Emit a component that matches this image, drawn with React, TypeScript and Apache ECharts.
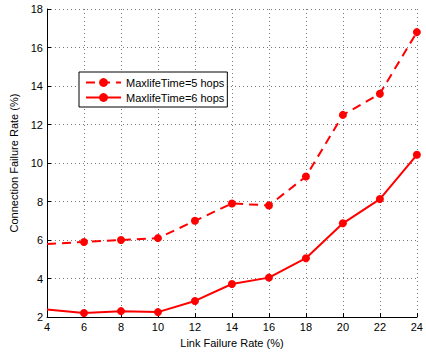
import React, { useEffect, useRef } from "react";
import * as echarts from "echarts";

const linkFailureRate = [4, 6, 8, 10, 12, 14, 16, 18, 20, 22, 24];
const hops5 = [5.8, 5.9, 6.0, 6.1, 7.0, 7.9, 7.8, 9.3, 12.5, 13.6, 16.8];
const hops6 = [2.4, 2.21, 2.31, 2.26, 2.84, 3.72, 4.05, 5.06, 6.87, 8.13, 10.43];
const seriesNames = ["MaxlifeTime=5 hops", "MaxlifeTime=6 hops"];

const FONT = "Liberation Sans, Arial, Helvetica, sans-serif";

function toPoints(ys: number[]) {
  // the first point sits on the y axis; its marker is hidden
  return linkFailureRate.map((x, i) => ({
    value: [x, ys[i]],
    symbolSize: i === 0 ? 0 : 8,
  }));
}

export default function App() {
  const ref = useRef<HTMLDivElement>(null);

  useEffect(() => {
    if (!ref.current) return;
    const chart = echarts.init(ref.current, null, { renderer: "svg" });
    const gridLine = {
      show: true,
      lineStyle: { color: "#777", type: [1, 3] as any, width: 1 },
    };
    const axisCommon = {
      axisLine: { show: true, lineStyle: { color: "#000", width: 1 } },
      axisTick: { show: true, inside: true, length: 4, lineStyle: { color: "#000" } },
      axisLabel: { color: "#000", fontSize: 11, fontFamily: FONT, margin: 4 },
      splitLine: gridLine,
      nameTextStyle: { color: "#000", fontSize: 11, fontFamily: FONT },
      nameLocation: "middle" as const,
    };
    chart.setOption({
      animation: false,
      backgroundColor: "#fff",
      grid: { left: 47, top: 9, right: 8, bottom: 34 },
      xAxis: {
        ...axisCommon,
        type: "value",
        min: 4,
        max: 24,
        interval: 2,
        name: "Link Failure Rate (%)",
        nameGap: 17,
      },
      yAxis: {
        ...axisCommon,
        type: "value",
        min: 2,
        max: 18,
        interval: 2,
        name: "Connection Failure Rate (%)",
        nameGap: 21,
      },
      legend: {
        orient: "vertical",
        left: 79,
        top: 72,
        padding: [5, 3, 4, 6],
        itemGap: 4,
        itemWidth: 35,
        itemHeight: 11,
        borderColor: "#000",
        borderWidth: 1,
        backgroundColor: "#fff",
        textStyle: { color: "#000", fontSize: 11, fontFamily: FONT },
        data: seriesNames,
      },
      series: [
        {
          name: seriesNames[0],
          type: "line",
          data: toPoints(hops5),
          symbol: "circle",
          color: "#ff0000",
          lineStyle: { color: "#ff0000", width: 2, type: [9, 6] as any },
          itemStyle: { color: "#ff0000" },
        },
        {
          name: seriesNames[1],
          type: "line",
          data: toPoints(hops6),
          symbol: "circle",
          color: "#ff0000",
          lineStyle: { color: "#ff0000", width: 2 },
          itemStyle: { color: "#ff0000" },
        },
      ],
    });
    return () => chart.dispose();
  }, []);

  return (
    <div
      ref={ref}
      style={{ position: "fixed", left: 0, top: 0, width: 426, height: 353 }}
    />
  );
}
